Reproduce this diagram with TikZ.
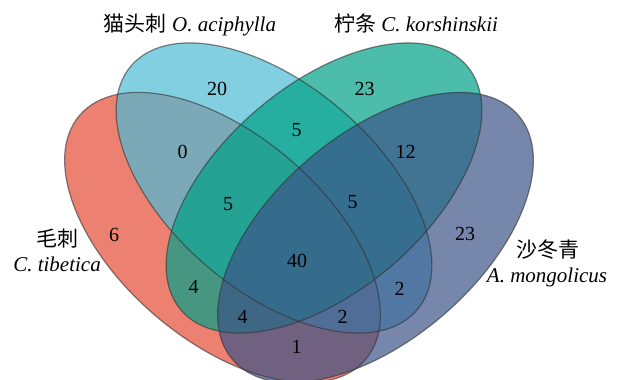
\documentclass[tikz,border=0pt]{standalone}
\usepackage{fontspec}
\setmainfont{Liberation Serif}
\newfontfamily\cjk{Noto Sans CJK SC}
\definecolor{setRed}{HTML}{E64B35}
\definecolor{setCyan}{HTML}{4DBBD5}
\definecolor{setGreen}{HTML}{00A087}
\definecolor{setBlue}{HTML}{3C5488}
\begin{document}
\begin{tikzpicture}[x=1pt,y=-1pt,
  setfill/.style={fill=#1, fill opacity=0.7},
  rim/.style={draw=black!80, draw opacity=0.6, line width=1.2pt},
  num/.style={font=\fontsize{20}{24}\selectfont, inner sep=0pt},
  lab/.style={font=\fontsize{21}{25}\selectfont, inner sep=0pt, anchor=base}]
\useasboundingbox (0,0) rectangle (624,380);
% four overlapping ellipses, filled in order
\fill[setfill=setRed, rotate around={-40.5:(222.5,237.5)}] (222.5,237.5) ellipse [x radius=188pt, y radius=103pt];
\fill[setfill=setCyan, rotate around={-40.5:(274,188)}] (274,188) ellipse [x radius=188pt, y radius=103pt];
\fill[setfill=setGreen, rotate around={40.5:(324,188)}] (324,188) ellipse [x radius=188pt, y radius=103pt];
\fill[setfill=setBlue, rotate around={40.5:(375.5,237.5)}] (375.5,237.5) ellipse [x radius=188pt, y radius=103pt];
% outlines on top
\draw[rim, rotate around={-40.5:(222.5,237.5)}] (222.5,237.5) ellipse [x radius=188pt, y radius=103pt];
\draw[rim, rotate around={-40.5:(274,188)}] (274,188) ellipse [x radius=188pt, y radius=103pt];
\draw[rim, rotate around={40.5:(324,188)}] (324,188) ellipse [x radius=188pt, y radius=103pt];
\draw[rim, rotate around={40.5:(375.5,237.5)}] (375.5,237.5) ellipse [x radius=188pt, y radius=103pt];
% set labels
\node[lab] (tA) at (190,31.5) {{\cjk 猫头刺} \textit{O. aciphylla}};
\node[lab] (tB) at (416,31.5) {{\cjk 柠条} \textit{C. korshinskii}};
\node[lab] (tC1) at (57,246) {\cjk 毛刺};
\node[lab] (tC2) at (57,271) {\textit{C. tibetica}};
\node[lab] (tD1) at (548,257.5) {\cjk 沙冬青};
\node[lab] (tD2) at (547,282.5) {\textit{A. mongolicus}};
% region counts
\node[num] (n20) at (217,89) {20};
\node[num] (n23a) at (364.5,89) {23};
\node[num] (n0) at (182.5,151.5) {0};
\node[num] (n5a) at (296.5,130) {5};
\node[num] (n12) at (405.5,151.5) {12};
\node[num] (n5b) at (228,204) {5};
\node[num] (n5c) at (352.5,202) {5};
\node[num] (n6) at (114,235) {6};
\node[num] (n23b) at (465,234) {23};
\node[num] (n40) at (297,261) {40};
\node[num] (n4a) at (193.5,287) {4};
\node[num] (n2a) at (399.5,289) {2};
\node[num] (n4b) at (242.5,317) {4};
\node[num] (n2b) at (342.5,317) {2};
\node[num] (n1) at (296.5,347) {1};
\end{tikzpicture}
\end{document}
